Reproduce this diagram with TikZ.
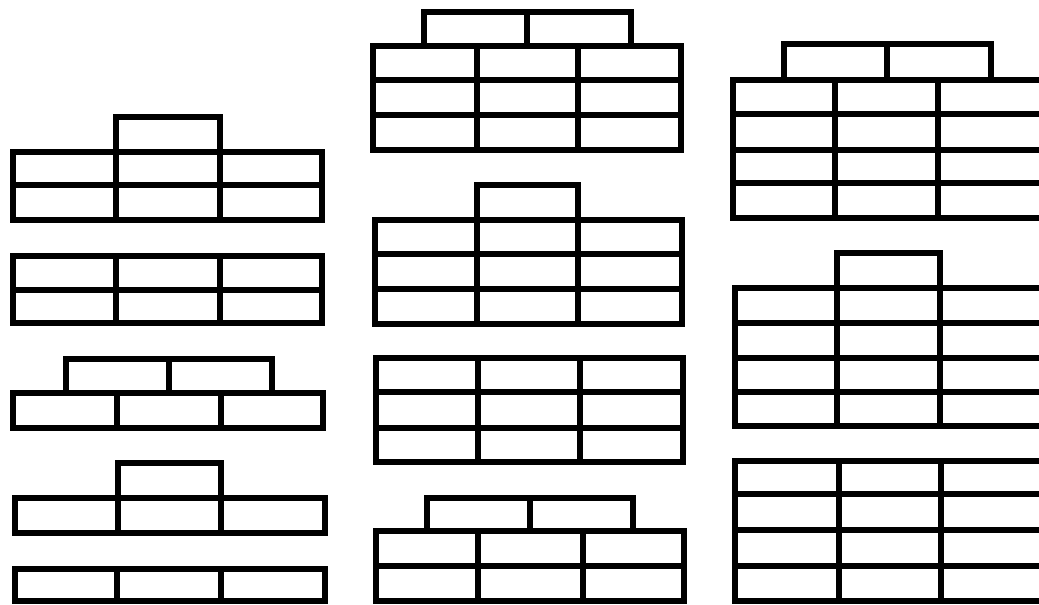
\documentclass[tikz,border=0pt]{standalone}
\tikzset{wall/.style={draw=black, line width=5.8pt, line join=miter}}
\begin{document}
\begin{tikzpicture}[x=1pt,y=-1pt]
\useasboundingbox (0,0) rectangle (1039,605);
\clip (0,0) rectangle (1039,605);
\fill[white] (0,0) rectangle (1039,605);
% ---------- Column 1 ----------
% Block 1
\draw[wall] (116,117) rectangle (220,152);
\draw[wall] (13,152) rectangle (322,220);
\draw[wall] (13,185) -- (322,185);
\foreach \x in {116,220} \draw[wall] (\x,152) -- (\x,220);
% Block 2
\draw[wall] (13,256) rectangle (322,323);
\draw[wall] (13,290) -- (322,290);
\foreach \x in {116,220} \draw[wall] (\x,256) -- (\x,323);
% Block 3
\draw[wall] (66,359) rectangle (272,393);
\draw[wall] (169,359) -- (169,393);
\draw[wall] (13,393) rectangle (323,428);
\foreach \x in {117,221} \draw[wall] (\x,393) -- (\x,428);
% Block 4
\draw[wall] (118,463) rectangle (221,498);
\draw[wall] (15,498) rectangle (325,533);
\foreach \x in {118,221} \draw[wall] (\x,498) -- (\x,533);
% Block 5
\draw[wall] (15,569) rectangle (325,601);
\foreach \x in {117,221} \draw[wall] (\x,569) -- (\x,601);
% ---------- Column 2 ----------
% Block 6
\draw[wall] (424,12) rectangle (631,46);
\draw[wall] (527,12) -- (527,46);
\draw[wall] (373,46) rectangle (681,150);
\foreach \y in {80,115} \draw[wall] (373,\y) -- (681,\y);
\foreach \x in {477,578} \draw[wall] (\x,46) -- (\x,150);
% Block 7
\draw[wall] (477,185) rectangle (578,220);
\draw[wall] (375,220) rectangle (682,324);
\foreach \y in {254,289} \draw[wall] (375,\y) -- (682,\y);
\foreach \x in {477,578} \draw[wall] (\x,220) -- (\x,324);
% Block 8
\draw[wall] (376,358) rectangle (683,462);
\foreach \y in {392,428} \draw[wall] (376,\y) -- (683,\y);
\foreach \x in {478,580} \draw[wall] (\x,358) -- (\x,462);
% Block 9
\draw[wall] (427,498) rectangle (633,531);
\draw[wall] (530,498) -- (530,531);
\draw[wall] (376,531) rectangle (684,601);
\draw[wall] (376,566) -- (684,566);
\foreach \x in {478,583} \draw[wall] (\x,531) -- (\x,601);
% ---------- Column 3 (runs past the right edge) ----------
% Block 10
\draw[wall] (784,44) rectangle (991,80);
\draw[wall] (887,44) -- (887,80);
\draw[wall] (1060,80) -- (733,80) -- (733,218) -- (1060,218);
\foreach \y in {114,150,183} \draw[wall] (733,\y) -- (1060,\y);
\foreach \x in {835,938} \draw[wall] (\x,80) -- (\x,218);
% Block 11
\draw[wall] (837,253) rectangle (940,288);
\draw[wall] (1060,288) -- (735,288) -- (735,426) -- (1060,426);
\foreach \y in {323,358,392} \draw[wall] (735,\y) -- (1060,\y);
\foreach \x in {837,940} \draw[wall] (\x,288) -- (\x,426);
% Block 12
\draw[wall] (1060,461) -- (735,461) -- (735,601) -- (1060,601);
\foreach \y in {494,530,566} \draw[wall] (735,\y) -- (1060,\y);
\foreach \x in {839,941} \draw[wall] (\x,461) -- (\x,601);
\end{tikzpicture}
\end{document}
